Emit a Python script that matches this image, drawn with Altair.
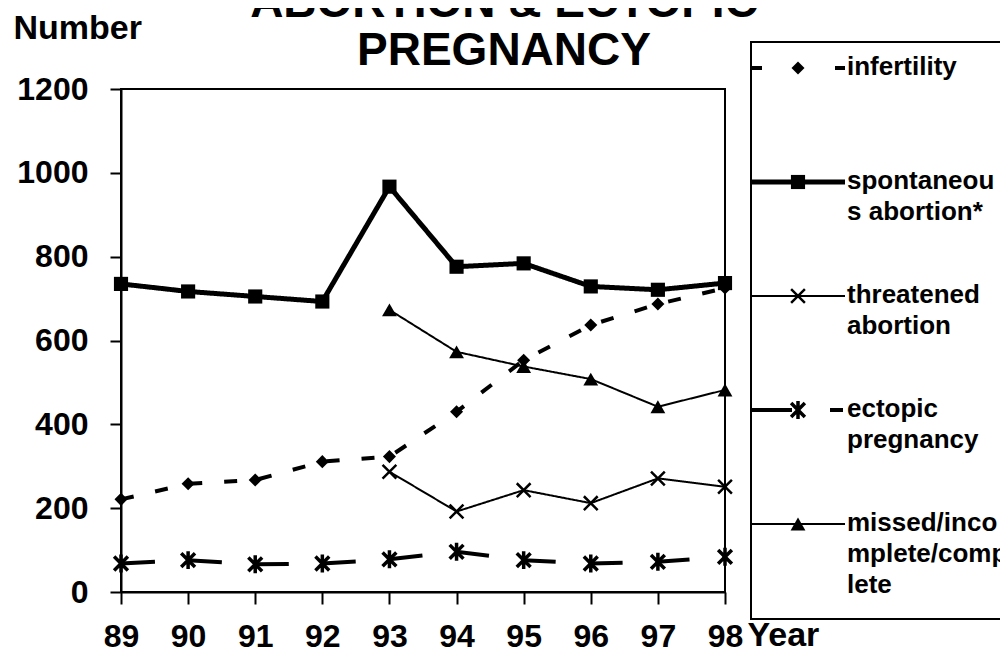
import altair as alt
import pandas as pd

# ---------------- data ----------------
YEARS = [89, 90, 91, 92, 93, 94, 95, 96, 97, 98]
INFERTILITY = [221, 258, 267, 311, 323, 430, 553, 637, 687, 725]
SPONTANEOUS = [735, 717, 705, 693, 967, 776, 784, 729, 721, 737]
THREATENED = [None, None, None, None, 287, 192, 243, 212, 271, 251]
ECTOPIC = [68, 76, 66, 68, 78, 96, 76, 68, 72, 84]
MISSED = [None, None, None, None, 673, 573, 538, 508, 442, 482]
Y_TICKS = [0, 200, 400, 600, 800, 1000, 1200]

SERIES_NAMES = ["infertility", "spontaneous abortion*", "threatened abortion",
                "ectopic pregnancy", "missed/incomplete/complete"]
LEGEND_LINES = [["infertility"], ["spontaneou", "s abortion*"], ["threatened", "abortion"],
                ["ectopic", "pregnancy"], ["missed/inco", "mplete/comp", "lete"]]
TITLE_LINES = ["ABORTION & ECTOPIC", "PREGNANCY"]
Y_TITLE = "Number"
X_TITLE = "Year"

FONT = "Liberation Sans"
X_PATH = "M-1,-1L1,1M-1,1L1,-1"
AST_PATH = "M-1,-1L1,1M-1,1L1,-1M0,-1.3L0,1.3"

# style per series: line width, dash, marker shape, filled, marker size, marker stroke width, legend dash
STYLES = {
    "infertility": dict(w=4, dash=[13, 22], shape="diamond", filled=True, size=170, sw=1, ldash=[10, 73]),
    "spontaneous abortion*": dict(w=5, dash=[1, 0], shape="square", filled=True, size=200, sw=1, ldash=[1, 0]),
    "threatened abortion": dict(w=2, dash=[1, 0], shape=X_PATH, filled=False, size=190, sw=2.5, ldash=[1, 0]),
    "ectopic pregnancy": dict(w=4, dash=[34, 33], shape=AST_PATH, filled=False, size=190, sw=3.5, ldash=[40, 38, 13, 10]),
    "missed/incomplete/complete": dict(w=2, dash=[1, 0], shape="triangle-up", filled=True, size=220, sw=1, ldash=[1, 0]),
}
VALUES = [INFERTILITY, SPONTANEOUS, THREATENED, ECTOPIC, MISSED]

x_enc = alt.X("year:Q",
              scale=alt.Scale(domain=[89, 98], nice=False, zero=False),
              axis=alt.Axis(values=YEARS, format="d", title=X_TITLE, grid=False,
                            tickSize=12, labelPadding=17, labelFlush=False,
                            titleAlign="left", titleBaseline="alphabetic",
                            titleX=626, titleY=53, titleFontSize=34))
y_enc = alt.Y("value:Q",
              scale=alt.Scale(domain=[0, 1200], nice=False),
              axis=alt.Axis(values=Y_TICKS, format="d", title=Y_TITLE, grid=False,
                            tickSize=11, labelPadding=22,
                            titleAngle=0, titleAlign="left", titleBaseline="alphabetic",
                            titleX=-108, titleY=-51, titleFontSize=34))

layers = []

# legend box
box = alt.Chart(pd.DataFrame({"k": [0]})).mark_rect(
    fill="white", stroke="black", strokeWidth=2
).encode(x=alt.value(630), x2=alt.value(960), y=alt.value(-47), y2=alt.value(530))
layers.append(box)

# series
for name, vals in zip(SERIES_NAMES, VALUES):
    st = STYLES[name]
    df = pd.DataFrame({"year": YEARS, "value": vals}).dropna()
    df["series"] = name
    line = alt.Chart(df).mark_line(color="black", strokeWidth=st["w"], strokeDash=st["dash"]).encode(
        x=x_enc, y=y_enc)
    pts = alt.Chart(df).mark_point(
        shape=st["shape"], filled=st["filled"], size=st["size"], color="black",
        opacity=1, strokeWidth=st["sw"]).encode(x=x_enc, y=y_enc)
    layers += [line, pts]

# legend entries
LEG_CENTERS = [-21, 93, 207, 321, 435]
for name, lines, yc in zip(SERIES_NAMES, LEGEND_LINES, LEG_CENTERS):
    st = STYLES[name]
    d = pd.DataFrame({"series": [name]})
    layers.append(alt.Chart(d).mark_rule(color="black", strokeWidth=st["w"], strokeDash=st["ldash"]).encode(
        x=alt.value(631), x2=alt.value(724), y=alt.value(yc)))
    layers.append(alt.Chart(d).mark_point(
        shape=st["shape"], filled=st["filled"], size=st["size"], color="black",
        opacity=1, strokeWidth=st["sw"]).encode(x=alt.value(677), y=alt.value(yc)))
    for k, txt in enumerate(lines):
        layers.append(alt.Chart(pd.DataFrame({"t": [txt]})).mark_text(
            align="left", baseline="alphabetic", font=FONT, fontSize=26, fontWeight="bold",
            color="black").encode(x=alt.value(726), y=alt.value(yc + 7 + 31 * k), text="t:N"))

# title
for txt, yb in zip(TITLE_LINES, [-72, -24]):
    layers.append(alt.Chart(pd.DataFrame({"t": [txt]})).mark_text(
        align="center", baseline="alphabetic", font=FONT, fontSize=46, fontWeight="bold",
        color="black").encode(x=alt.value(383), y=alt.value(yb), text="t:N"))

chart = alt.layer(*layers).properties(
    width=604, height=503,
    autosize=alt.AutoSizeParams(type="none"),
    padding={"left": 113, "top": 81, "right": 275, "bottom": 57},
    background="white",
).configure_axis(
    domainColor="black", domainWidth=2, tickColor="black", tickWidth=2,
    labelFont=FONT, labelFontSize=32, labelFontWeight="bold", labelColor="black",
    titleFont=FONT, titleFontWeight="bold", titleColor="black",
).configure_view(stroke="black", strokeWidth=2)

chart.save("out.html", embed_options={"renderer": "svg", "actions": False})
